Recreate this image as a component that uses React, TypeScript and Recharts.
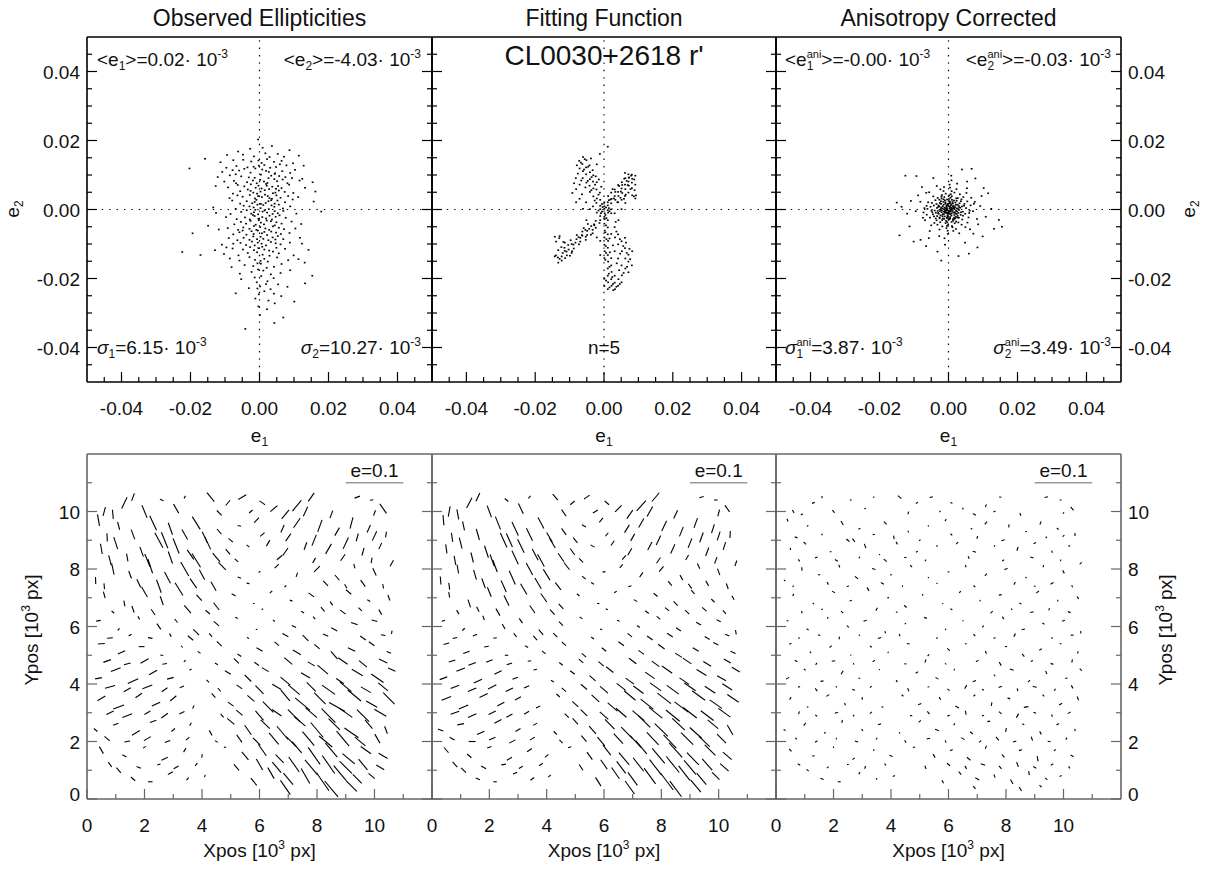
import React from "react"
import { ScatterChart, Scatter, XAxis, YAxis, ReferenceLine } from "recharts"

const FONT = '"Liberation Sans", Arial, Helvetica, sans-serif'
const PAGE_W = 1222
const PAGE_H = 869

// ellipticity axes, in units of 1e-3
const eTicks = [-45, -40, -35, -30, -25, -20, -15, -10, -5, 0, 5, 10, 15, 20, 25, 30, 35, 40, 45]
const eMajor = [-40, -20, 0, 20, 40]
// position axes, in units of 1e3 px
const posTicks = [0, 1, 2, 3, 4, 5, 6, 7, 8, 9, 10, 11]
const posMajor = [0, 2, 4, 6, 8, 10]

// [e1, e2] x 1e-3, observed stars
const observedE: [number, number][] = [
  [-0.4, 20.3], [3.6, 18.4], [-2.7, 17.6], [8.7, 17.2], [0.9, 17.9], [-6.2, 16.8],
  [-4.8, 15.9], [1.7, 16.3], [11.4, 15.6], [-15.8, 14.7], [2.9, 15.2], [-1.6, 15.4], [5.3, 16.1], [-9.4, 15.8], [7.1, 15.3],
  [-7.6, 14.3], [-2.4, 13.9], [2.2, 14.6], [6.4, 14.1], [9.7, 13.4], [-11.3, 13.7], [-4.7, 14.4], [0.6, 13.5], [4.2, 13.8], [-0.3, 14.2],
  [-6.7, 12.6], [-3.5, 12.2], [1.4, 12.9], [4.8, 12.3], [7.8, 12.8], [-9.6, 12.1], [-1.7, 12.4], [3.1, 12.1], [12.8, 12.7], [-20.3, 11.9], [5.9, 13.1], [-0.2, 12.7],
  [-5.9, 11.3], [-2.6, 10.7], [0.8, 11.6], [2.7, 10.9], [6.6, 11.1], [8.9, 10.6], [-10.8, 10.9], [-4.4, 11.8], [1.9, 11.2], [4.5, 10.5], [-7.8, 11.4], [-1.2, 11.9], [10.3, 11.5],
  [-5.3, 9.6], [-1.4, 9.2], [3.4, 9.8], [7.5, 9.4], [-8.6, 9.9], [-3.1, 9.3], [0.4, 10.1], [2.6, 9.1], [5.7, 9.7], [9.4, 9.1], [12.4, 8.9], [-12.1, 9.4], [-6.9, 10.2], [4.4, 10.3],
  [-7.4, 8.3], [-3.6, 7.9], [0.2, 8.6], [2.3, 7.7], [5.1, 8.2], [8.1, 7.6], [15.4, 7.9], [-6.8, 7.6], [1.3, 8.1], [4.3, 8.8], [-1.9, 8.4], [-10.2, 8.1], [6.7, 8.7], [-0.8, 7.6], [11.6, 8.4],
  [-4.4, 6.7], [-1.1, 6.3], [2.1, 6.9], [6.4, 6.2], [-6.3, 7.1], [0.6, 6.1], [3.7, 6.6], [8.6, 7.2], [-2.5, 7.3], [1.9, 7.4], [5.4, 6.8], [-9.1, 6.4], [-0.3, 6.9], [4.8, 6.0], [13.2, 6.3], [-12.7, 6.8],
  [-5.6, 5.3], [-1.8, 4.9], [1.5, 5.6], [3.9, 4.7], [7.3, 5.1], [-3.4, 5.8], [0.3, 5.2], [5.6, 5.5], [9.8, 4.8], [-7.7, 4.6], [2.8, 5.9], [-0.7, 4.6], [-2.6, 5.4], [4.6, 4.9], [16.2, 5.2],
  [-4.9, 3.7], [-1.3, 3.2], [2.4, 3.9], [6.1, 3.4], [-2.8, 4.2], [0.7, 3.6], [3.6, 3.1], [8.3, 3.9], [-8.7, 3.3], [1.6, 4.3], [4.9, 4.1], [-0.4, 3.9], [-6.4, 4.1], [11.2, 3.6], [2.9, 3.3],
  [-3.7, 2.4], [-0.9, 2.8], [1.8, 1.9], [5.2, 2.6], [-5.6, 1.7], [0.4, 1.6], [3.4, 2.7], [7.4, 2.1], [-2.1, 1.8], [2.6, 2.4], [-1.4, 2.2], [4.4, 1.7], [-7.9, 2.6], [9.6, 2.9], [15.7, 2.3],
  [-4.6, 1.1], [-1.7, 0.6], [1.1, 1.3], [4.3, 0.8], [6.8, 0.3], [-6.9, 0.2], [-2.9, 0.9], [0.3, 0.4], [2.7, 0.1], [-0.6, 1.4], [3.5, 1.2], [8.9, 0.9], [-1.2, -0.1], [5.6, 1.4], [-13.4, 0.6],
  [-5.3, -0.7], [-2.4, -1.2], [0.9, -0.6], [3.8, -1.3], [6.9, -0.4], [-3.7, -0.2], [-0.4, -1.4], [2.2, -0.9], [5.3, -1.1], [-8.4, -1.3], [1.5, -0.3], [-1.6, -0.8], [4.4, -0.5], [17.9, -0.6], [-12.6, -1.0], [10.7, -1.2],
  [-4.2, -2.3], [-1.4, -1.9], [1.9, -2.6], [4.7, -2.1], [-6.6, -2.8], [-0.3, -2.7], [2.9, -1.8], [7.6, -2.4], [-2.8, -2.9], [0.8, -2.2], [3.6, -2.9], [-9.7, -2.2], [5.8, -1.7], [-1.9, -1.6],
  [-5.4, -3.6], [-2.6, -3.3], [0.4, -3.8], [3.3, -3.4], [6.4, -4.1], [-7.3, -4.3], [-1.1, -4.4], [2.1, -3.2], [4.9, -3.7], [-3.9, -4.1], [1.3, -4.3], [9.3, -3.5], [-0.2, -3.1], [-14.9, -4.7], [12.1, -4.2],
  [-4.7, -5.2], [-1.6, -4.8], [1.7, -5.5], [3.9, -4.9], [7.1, -5.7], [-6.2, -5.9], [-2.9, -5.6], [0.2, -5.1], [2.8, -5.9], [5.6, -5.3], [-9.2, -5.4], [-0.9, -5.9], [4.4, -4.6], [-11.8, -5.8], [10.4, -5.5],
  [-5.8, -6.6], [-2.3, -6.3], [0.7, -6.9], [3.4, -6.4], [6.2, -7.1], [-3.8, -7.3], [-0.5, -6.1], [2.2, -7.4], [4.8, -6.7], [-7.6, -7.2], [1.4, -6.5], [8.7, -6.8], [-1.7, -7.1], [-19.4, -6.9], [-4.9, -6.1],
  [-4.6, -8.2], [-1.8, -7.8], [1.1, -8.5], [3.8, -8.1], [6.9, -8.6], [-8.9, -8.3], [-2.9, -8.8], [0.3, -7.9], [2.6, -8.9], [5.3, -7.7], [-6.4, -8.9], [-0.7, -8.6], [4.6, -8.7], [11.7, -8.2],
  [-5.5, -9.7], [-2.2, -9.3], [0.6, -9.9], [3.3, -9.4], [6.1, -10.1], [-10.9, -10.2], [-3.9, -10.3], [-0.5, -9.6], [1.9, -10.4], [4.7, -9.8], [8.8, -9.6], [-7.6, -9.9], [-1.4, -10.4], [12.3, -9.9],
  [-7.8, -11.3], [-2.7, -10.9], [1.4, -11.6], [4.9, -11.1], [-12.9, -11.8], [-4.8, -11.6], [-0.3, -11.2], [2.8, -11.9], [7.4, -11.4], [-1.6, -11.8], [-9.6, -11.0], [14.2, -11.7], [0.8, -10.8],
  [-17.1, -13.2], [-3.4, -12.6], [2.9, -13.4], [-10.3, -12.9], [0.9, -13.1], [5.6, -12.7], [9.9, -13.3], [-22.4, -12.3], [-6.1, -13.3], [-0.7, -12.4], [3.9, -12.2],
  [1.4, -14.3], [5.1, -13.9], [-5.8, -14.8], [-1.3, -14.6], [2.4, -15.1], [8.3, -14.7], [-2.9, -13.8], [-8.6, -14.2], [11.3, -14.4], [0.3, -14.9],
  [-4.3, -16.1], [0.4, -15.7], [4.2, -16.6], [13.1, -15.4], [-8.1, -16.7], [-1.8, -16.4], [2.1, -16.9], [6.4, -15.8], [-0.6, -15.6],
  [-2.3, -18.1], [1.1, -17.7], [6.1, -18.4], [3.3, -18.8], [-0.4, -17.4], [-5.7, -18.6], [8.9, -17.6],
  [-5.3, -20.2], [-1.4, -19.7], [2.3, -20.8], [0.5, -19.3], [4.1, -19.9], [-0.8, -21.1], [15.3, -19.2],
  [5.4, -21.7], [0.2, -22.3], [-3.1, -22.8], [3.2, -23.1], [8.1, -22.4], [1.9, -21.6], [-0.6, -22.9], [13.2, -21.4],
  [-6.9, -24.3], [1.4, -23.7], [6.3, -25.1], [-1.2, -25.8], [4.2, -24.4], [-0.2, -24.6],
  [4.4, -27.2], [10.1, -26.7], [2.2, -28.9], [0.1, -30.6], [6.9, -31.3], [4.3, -32.9], [-4.1, -34.6], [-0.3, -28.1], [2.6, -26.4],
]

// [e1, e2] x 1e-3, PSF model evaluated at the star positions
const fittedE: [number, number][] = [
  [-6.1, 15.2], [-7.2, 14.1], [-5.1, 14.3], [-6.3, 13.2], [-4.2, 12.8], [-7.1, 11.9], [-5.2, 12.2], [-6.1, 11.1], [-4.1, 10.8], [-5.2, 10.2], [-3.1, 9.9], [-6.2, 9.1], [-4.1, 8.8], [-3.2, 8.1], [-5.1, 7.8], [-2.1, 7.9], [-4.2, 6.9], [-3.1, 6.1], [-2.2, 5.8], [-4.1, 5.1], [-1.2, 4.9], [-3.1, 3.8], [-2.1, 3.2], [-1.1, 2.8], [-2.2, 1.9], [0.1, 2.1], [-1.1, 1.1], [-3.2, 0.9], [-8.1, 5.9], [-9.2, 4.8], [-7.1, 3.1], [-5.2, 2.1], [-8.2, 9.1], [-7.1, 7.2], [-1.2, 16.1], [1.1, 18.2], [-2.1, 13.1],
  [-5.6, 14.6], [-6.7, 13.6], [-4.6, 12.4], [-5.8, 11.6], [-3.6, 9.4], [-4.7, 8.3], [-2.6, 7.2], [-3.7, 5.6], [-1.6, 4.3], [-2.7, 2.6], [-0.6, 1.6], [-7.6, 10.4], [-6.6, 8.4], [-8.7, 7.6], [-5.4, 6.4], [-6.4, 4.4], [-3.3, 11.4], [-2.4, 9.6], [-0.8, 6.6], [-1.5, 8.7], [-7.9, 12.8], [-3.8, 14.8],
  [1.1, 1.2], [2.1, 1.8], [2.2, 3.1], [3.1, 3.9], [3.3, 2.8], [4.1, 5.1], [4.2, 3.9], [5.1, 6.1], [5.3, 4.8], [6.1, 7.2], [6.2, 5.9], [7.1, 8.1], [6.2, 9.1], [7.2, 9.2], [8.1, 10.1], [8.2, 8.9], [7.1, 10.2], [5.2, 7.9], [4.1, 7.1], [3.1, 5.8], [8.1, 6.2], [8.2, 4.1], [7.1, 4.9], [9.1, 3.2], [6.1, 3.9], [5.1, 2.8], [2.1, 4.9], [1.2, 3.9], [4.1, 2.1], [6.2, 1.9], [8.1, 7.8], [9.1, 9.8], [7.2, 6.9],
  [1.4, 2.7], [2.9, 3.2], [3.3, 5.1], [4.9, 5.2], [5.3, 7.1], [6.9, 7.1], [7.3, 9.3], [8.8, 8.7], [7.7, 5.9], [8.9, 5.6], [6.3, 4.3], [5.8, 3.1], [3.9, 2.1], [4.4, 6.8], [5.9, 8.9], [6.1, 10.6], [8.7, 3.8], [9.3, 4.1], [2.5, 5.9], [1.9, 2.9], [7.9, 9.8], [6.6, 8.3], [9.1, 7.2], [4.8, 3.4],
  [0.1, 0.2], [1.1, -0.2], [-1.1, 0.1], [0.2, -1.1], [1.2, -0.9], [0.1, -2.1], [-1.1, -1.9], [1.1, -3.1], [0.2, -2.8], [2.1, -1.1], [-2.1, -0.9], [2.2, 0.1], [0.1, 0.9], [1.1, 2.1], [-0.9, -1.1],
  [0.6, 0.6], [-0.6, -0.6], [0.4, -1.6], [-0.4, 0.7], [1.6, -0.5], [0.7, -2.5], [-1.6, -0.3], [1.4, 0.4],
  [-1.1, -3.1], [-2.4, -3.3], [-2.8, -4.6], [-3.7, -4.8], [-4.3, -5.6], [-5.4, -5.9], [-4.9, -7.4], [-6.3, -7.6], [-7.4, -8.0], [-6.9, -9.3], [-8.3, -9.6], [-9.4, -10.0], [-8.8, -11.3], [-10.3, -11.6], [-11.4, -12.0], [-10.8, -13.3], [-12.3, -13.6], [-13.4, -13.9], [-12.0, -12.6], [-13.3, -11.8], [-14.3, -13.6], [-13.0, -8.3], [-11.8, -9.4], [-11.4, -9.6], [-6.3, -6.4], [-3.8, -7.3], [-8.0, -8.6], [-9.9, -13.4], [-5.3, -8.8], [-9.4, -12.6], [-14.0, -13.3], [-12.3, -14.8], [-3.3, -6.9], [-14.3, -7.9], [-12.9, -7.7],
  [-1.3, -3.9], [-2.9, -4.3], [-3.3, -5.9], [-4.9, -6.2], [-5.3, -7.9], [-6.9, -8.2], [-7.3, -10.1], [-8.9, -10.2], [-9.3, -12.1], [-10.9, -12.2], [-11.3, -14.1], [-12.9, -14.3], [-13.3, -15.4], [-11.5, -11.1], [-12.4, -10.9], [-13.9, -9.3], [-9.7, -8.9], [-6.4, -7.4], [-4.7, -4.2], [-7.9, -7.4], [-10.4, -10.3], [-2.4, -5.3], [-5.9, -5.4],
  [0.1, -4.1], [1.1, -5.2], [0.2, -6.1], [1.1, -7.2], [0.1, -8.1], [1.2, -9.1], [0.1, -10.2], [1.1, -11.1], [0.2, -12.1], [1.1, -13.2], [0.1, -14.1], [1.2, -15.1], [2.1, -16.2], [1.1, -17.1], [2.2, -18.1], [1.1, -19.2], [0.1, -20.1], [2.1, -20.2], [1.2, -21.1], [0.1, -22.2], [1.1, -23.1], [2.2, -22.1], [3.1, -21.2], [3.2, -23.1], [4.1, -22.1], [4.2, -20.2], [5.1, -21.1], [3.1, -19.2], [2.1, -14.1], [-1.1, -9.1], [-1.1, -13.2],
  [0.6, -4.6], [0.4, -6.6], [0.7, -8.6], [0.5, -10.6], [0.6, -12.6], [0.4, -14.6], [1.6, -16.6], [1.4, -18.6], [0.6, -20.6], [1.6, -22.6], [2.6, -21.6], [3.6, -22.4], [2.7, -23.4], [4.6, -21.6], [2.4, -19.6], [1.7, -12.4], [1.6, -8.4],
  [3.1, -5.1], [4.1, -7.2], [3.2, -8.1], [5.1, -9.2], [4.1, -10.1], [6.1, -11.2], [5.2, -12.1], [7.1, -13.1], [6.2, -14.2], [7.1, -15.1], [5.1, -16.2], [6.2, -17.1], [7.1, -18.2], [5.2, -19.1], [4.1, -14.2], [3.1, -12.1], [8.1, -16.2], [8.2, -12.1], [2.1, -7.1], [6.1, -8.2], [4.2, -3.1],
  [3.6, -6.4], [4.6, -8.6], [5.6, -10.6], [6.6, -12.6], [7.6, -14.4], [6.7, -16.6], [5.7, -18.4], [4.4, -17.6], [3.7, -15.6], [6.4, -9.6], [7.4, -11.4], [4.7, -12.8], [2.6, -10.4], [3.4, -3.6],
  [-4.1, 0.1], [-6.1, 0.2], [-2.1, -8.1], [-5.1, -3.1], [3.1, -1.1], [5.1, 0.1], [-8.1, 2.1],
]

// [e1, e2] x 1e-3, after anisotropy correction
const correctedE: [number, number][] = [
  [0.3, 0.2], [-0.6, 0.8], [1.2, -0.4], [-1.1, -0.9], [0.8, 1.5], [-0.2, -1.6], [1.9, 0.7], [-1.8, 0.3], [0.5, -2.2], [-0.9, 2.1], [2.4, -1.3], [-2.3, -1.7], [1.6, 2.6], [-1.4, 1.4], [0.1, -0.5], [2.8, 0.1], [-2.7, 0.9], [0.9, -1.1], [-0.4, 2.9], [1.3, -2.8], [-1.6, -2.6], [3.2, 1.8], [-3.1, -0.4], [0.6, 3.4], [-0.7, -3.3], [2.1, -2.1], [-2.2, 2.4], [3.6, -0.8], [-3.5, 1.6], [1.1, 0.3], [-0.3, -0.2], [0.0, 1.0], [0.7, -0.1], [-1.3, 0.1], [0.2, -1.2], [1.5, 1.1], [-0.8, -0.4], [2.2, -0.3], [-2.0, -0.8], [0.4, 2.3], [-0.5, -2.4], [1.7, -1.6], [-1.5, 2.2], [2.6, 1.4], [-2.6, -2.3], [0.9, -3.6], [-1.2, 3.6], [3.0, -2.4], [-3.3, -1.9], [3.9, 0.9], [-4.0, -0.3], [0.2, 4.1], [-0.1, -4.3], [4.2, -1.8], [-3.8, 2.7], [2.7, 3.3], [-2.4, -3.7], [1.8, -4.0], [-1.9, 4.2], [4.6, 1.6], [-4.5, -1.4], [0.5, 0.6], [-0.9, 1.7], [1.4, -0.9], [-1.7, -1.4], [0.3, -2.8], [2.0, 2.0], [-2.9, 1.2], [1.0, 2.8], [-0.4, 0.4], [0.6, -0.6], [-1.0, -0.2], [1.2, 0.9], [-0.2, 1.3], [0.1, -0.9], [2.5, -0.6], [-2.1, 0.6], [0.8, 0.0], [-0.6, -1.1], [1.6, 0.4], [-1.4, -0.6], [0.4, 1.8], [-0.3, -1.9], [3.4, 0.5], [-3.0, -1.0], [0.0, -3.0], [1.9, -2.6], [-1.1, -2.0], [2.9, -1.0], [-2.5, 1.9],
  [0.35, -0.45], [-0.75, 0.35], [1.45, 0.65], [-1.35, -1.35], [0.65, 1.15], [-0.45, -0.85], [2.15, 1.35], [-1.65, 0.95], [0.85, -1.75], [-0.25, 1.65], [1.85, -0.75], [-2.45, -0.45], [1.15, 2.15], [-1.05, 2.65], [0.45, -2.55], [2.65, -1.85], [-2.85, -1.25], [3.15, 0.65], [-3.35, 0.45], [0.15, 3.05], [-0.35, -3.65], [1.35, -3.25], [-1.85, -3.05], [2.35, 2.55], [-2.15, 1.65], [3.55, -1.55], [-3.65, -0.95], [0.95, 3.85], [-0.85, -3.95], [1.65, -2.35], [-1.45, 2.95], [2.95, 1.05], [-2.65, 2.85], [0.25, 0.85], [-0.65, -0.15], [0.55, -1.35], [-1.15, 0.55], [1.05, -0.25], [-0.15, -1.05], [0.75, 0.45], [-0.95, -0.65], [1.25, 1.75], [-1.75, -1.95], [1.95, -1.15], [-2.25, 0.15], [0.05, 2.45], [-0.55, 1.25], [1.55, -2.85], [-1.25, -2.75], [2.45, 0.35], [-2.95, 0.75],
  [4.15, -0.65], [-4.25, 1.15], [0.65, 4.45], [-0.45, -4.75], [3.75, 2.95], [-3.45, -3.15], [2.85, -3.75], [-3.15, 3.35], [4.85, -1.25], [-4.95, -0.35], [1.15, -5.15], [-1.45, 5.35], [5.45, 2.35], [-5.35, -2.35], [2.15, -5.65], [-2.35, 5.85], [6.15, -0.35], [-6.35, 1.05], [0.45, 6.35], [-0.25, -6.15], [7.35, 1.65], [-7.25, -0.85], [8.25, -2.75], [-8.15, 2.25], [0.85, 8.45], [-1.15, -8.35], [6.25, -5.75], [-6.45, 4.85], [5.35, 6.15], [-5.45, -6.25], [3.05, -0.15], [-0.05, -2.05], [1.75, 0.15], [-1.95, -0.25], [0.35, 1.95], [-0.35, -2.45], [2.55, -2.35], [-2.55, -2.55], [2.25, 3.25], [-2.05, 3.75],
  [5.1, 0.4], [-5.2, 0.8], [0.9, 5.3], [-0.6, -5.4], [4.3, 3.6], [-4.1, -3.9], [3.8, -4.4], [-4.4, 3.8], [5.8, -2.3], [-5.9, 2.1], [2.3, 5.9], [-2.6, -5.8], [6.4, 1.2], [-6.3, -1.5], [1.4, -6.2], [-1.3, 6.5], [5.2, 4.8], [-5.0, -4.6], [4.9, -5.1], [-5.6, 5.0], [7.1, -0.5], [-7.0, 0.4], [0.3, 7.2], [-0.2, -7.1], [6.6, 3.4], [-6.8, -3.1], [3.1, -6.9], [-3.4, 6.8], [7.6, 2.2], [-7.4, -2.4], [2.5, 7.5], [-2.7, -7.7], [4.5, 1.1], [-4.7, -0.8], [1.0, -4.8], [-0.8, 4.6], [3.6, 2.4], [-3.7, -2.6], [2.2, -3.5], [-2.0, 3.2], [5.5, -3.8], [-4.8, 1.9], [6.0, -1.0], [-6.1, 0.2], [1.7, 4.9], [-1.8, -4.9], [3.3, 4.4], [-3.2, -4.4], [4.0, -2.9], [-4.2, -2.0],
  [9.2, 1.0], [-9.5, -0.5], [0.8, 9.8], [-1.0, -10.2], [8.6, -4.3], [-8.8, 4.1], [5.4, 8.1], [-5.7, -8.3], [10.8, -2.1], [-10.9, 2.5], [11.5, 4.7], [-12.0, -1.2], [3.9, 11.6], [-3.2, -12.2], [13.2, -5.6], [-13.6, 0.8], [7.8, 9.0], [-8.1, -8.8], [9.9, -7.8], [-12.5, 9.8], [-9.3, 9.7], [12.4, 0.2], [14.6, -3.0], [-14.2, -7.5], [6.7, 11.8], [2.9, -13.5], [-2.1, -14.8], [8.4, -11.0], [-6.5, -10.6], [10.2, 6.2], [-11.3, -4.9], [4.8, -9.6], [-4.4, 9.1], [9.6, 3.9], [-15.0, 2.0], [15.5, -5.0], [5.9, -12.8], [-7.7, 6.5], [7.2, -7.0], [-10.1, -9.3],
]

// star positions [x, y] in 1e3 px, one line per row of the field
const starPos: [number, number][] = [
  [0.6, 10.0], [1.3, 10.3], [1.6, 10.5], [2.6, 10.4], [3.4, 10.5], [4.3, 10.5], [4.9, 10.3], [5.4, 10.5], [6.1, 10.3], [6.5, 10.1], [7.3, 10.2], [7.8, 10.5], [9.4, 10.5], [9.9, 10.4], [10.3, 10.1],
  [0.4, 9.7], [1.1, 9.5], [2.3, 9.6], [2.9, 9.4], [3.8, 9.6], [4.6, 9.3], [5.3, 9.5], [5.9, 9.7], [6.8, 9.4], [7.3, 9.6], [8.1, 9.5], [8.7, 9.3], [9.2, 9.6], [9.8, 9.4], [10.4, 9.2],
  [0.5, 8.7], [1.0, 8.9], [1.9, 8.6], [2.5, 9.0], [3.1, 8.8], [3.6, 8.5], [4.2, 8.9], [4.9, 8.6], [5.6, 8.8], [6.3, 8.9], [6.9, 8.6], [7.6, 8.8], [8.4, 8.7], [9.0, 8.9], [9.6, 8.6], [10.2, 8.8],
  [0.3, 7.6], [0.9, 8.0], [1.5, 7.8], [2.2, 8.1], [2.8, 7.7], [3.4, 8.0], [4.0, 7.8], [4.7, 8.1], [5.3, 7.7], [6.0, 7.9], [6.6, 8.1], [7.3, 7.8], [8.0, 8.0], [8.7, 7.7], [9.3, 8.1], [10.0, 7.9], [10.6, 8.2],
  [0.6, 7.1], [1.3, 6.8], [2.0, 7.2], [2.6, 6.9], [3.2, 7.3], [3.9, 7.0], [4.5, 6.7], [5.1, 7.1], [5.8, 6.8], [6.4, 7.2], [7.1, 6.9], [7.8, 7.1], [8.5, 6.8], [9.1, 7.2], [9.8, 6.9], [10.5, 7.0],
  [0.4, 6.2], [1.1, 5.9], [1.8, 6.3], [2.5, 6.0], [3.1, 6.2], [3.8, 5.8], [4.5, 6.1], [5.2, 6.3], [5.9, 5.9], [6.5, 6.2], [7.2, 6.0], [7.9, 6.3], [8.6, 5.9], [9.3, 6.1], [10.0, 6.2], [10.6, 5.8],
  [0.5, 5.4], [1.2, 5.1], [1.9, 5.3], [2.6, 5.0], [3.3, 5.3], [3.9, 5.1], [4.6, 5.4], [5.3, 5.0], [6.0, 5.2], [6.6, 5.4], [7.3, 5.1], [8.0, 5.3], [8.6, 5.0], [9.2, 5.2], [9.9, 5.4], [10.5, 5.1],
  [0.4, 4.2], [1.0, 4.5], [1.6, 4.1], [2.3, 4.4], [2.9, 4.2], [3.6, 4.5], [4.2, 4.1], [4.9, 4.4], [5.6, 4.2], [6.2, 4.5], [6.9, 4.1], [7.6, 4.3], [8.2, 4.5], [8.8, 4.1], [9.4, 4.4], [10.1, 4.2], [10.6, 4.5],
  [0.5, 3.5], [1.1, 3.2], [1.8, 3.6], [2.4, 3.3], [3.0, 3.5], [3.7, 3.2], [4.4, 3.6], [5.0, 3.3], [5.7, 3.5], [6.3, 3.2], [6.9, 3.6], [7.5, 3.3], [8.1, 3.5], [8.7, 3.2], [9.3, 3.6], [9.9, 3.3], [10.5, 3.5],
  [0.3, 2.4], [1.0, 2.6], [1.7, 2.3], [2.3, 2.7], [3.0, 2.4], [3.6, 2.6], [4.3, 2.3], [5.0, 2.7], [5.6, 2.4], [6.2, 2.6], [6.8, 2.3], [7.4, 2.7], [8.0, 2.4], [8.6, 2.6], [9.2, 2.3], [9.8, 2.6], [10.4, 2.4],
  [0.5, 1.7], [1.3, 1.5], [2.0, 1.8], [2.7, 1.4], [3.4, 1.7], [4.0, 1.5], [4.8, 1.8], [5.5, 1.5], [6.1, 1.7], [6.7, 1.4], [7.3, 1.8], [7.9, 1.5], [8.5, 1.7], [9.1, 1.4], [9.7, 1.7], [10.3, 1.5],
  [1.1, 1.0], [1.6, 0.7], [2.2, 0.6], [2.9, 0.9], [3.5, 0.7], [4.1, 0.8], [5.8, 0.6], [6.4, 0.9], [7.0, 0.7], [7.6, 0.8], [8.2, 0.6], [8.8, 0.9], [9.4, 0.7], [9.9, 0.8],
  [0.9, 9.9], [2.0, 10.0], [3.1, 10.1], [4.6, 9.95], [5.7, 10.0], [6.9, 9.9], [7.6, 10.0], [8.5, 9.9], [10.0, 9.95],
  [0.7, 9.1], [1.6, 9.2], [2.7, 9.0], [3.4, 9.2], [4.1, 9.1], [5.0, 9.0], [6.1, 9.2], [7.0, 9.1], [7.9, 9.0], [9.4, 9.1], [10.0, 9.15],
  [0.8, 8.3], [1.4, 8.4], [2.1, 8.3], [2.9, 8.4], [3.8, 8.3], [4.5, 8.4], [5.2, 8.3], [6.7, 8.4], [7.9, 8.3], [8.9, 8.4], [9.9, 8.3],
  [0.6, 7.4], [1.8, 7.5], [2.5, 7.4], [3.7, 7.5], [4.4, 7.4], [5.6, 7.5], [6.9, 7.4], [8.3, 7.5], [9.0, 7.4], [9.6, 7.5], [10.3, 7.4],
  [0.9, 6.5], [1.6, 6.6], [2.3, 6.5], [3.5, 6.6], [4.2, 6.5], [6.1, 6.6], [7.5, 6.5], [8.2, 6.6], [8.9, 6.5], [9.5, 6.6], [10.2, 6.5],
  [0.8, 5.6], [1.5, 5.7], [2.2, 5.6], [2.9, 5.7], [3.6, 5.6], [4.3, 5.7], [5.6, 5.6], [6.9, 5.7], [7.6, 5.6], [8.3, 5.7], [9.6, 5.6], [10.3, 5.7],
  [0.7, 4.8], [1.4, 4.7], [2.0, 4.8], [2.7, 4.7], [3.4, 4.8], [4.5, 4.7], [5.2, 4.8], [5.9, 4.7], [7.0, 4.8], [7.8, 4.7], [8.9, 4.8], [9.6, 4.7], [10.3, 4.8],
  [0.8, 3.9], [1.4, 3.8], [2.1, 3.9], [2.7, 3.8], [3.3, 3.9], [4.6, 3.8], [5.3, 3.9], [6.0, 3.8], [6.6, 3.9], [7.2, 3.8], [7.8, 3.9], [8.4, 3.8], [9.0, 3.9], [9.7, 3.8], [10.3, 3.9],
  [0.8, 3.0], [1.4, 2.9], [2.1, 3.0], [2.7, 2.9], [3.3, 3.0], [4.7, 2.9], [5.3, 3.0], [6.0, 2.9], [6.6, 3.0], [7.2, 2.9], [7.8, 3.0], [8.4, 2.9], [9.0, 3.0], [9.6, 2.9], [10.2, 3.0],
  [0.7, 2.1], [1.4, 2.0], [2.1, 2.1], [2.8, 2.0], [3.5, 2.1], [4.5, 2.0], [5.3, 2.1], [5.9, 2.0], [6.5, 2.1], [7.1, 2.0], [7.7, 2.1], [8.3, 2.0], [8.9, 2.1], [9.5, 2.0], [10.1, 2.1],
  [0.8, 1.2], [1.8, 1.1], [2.5, 1.2], [3.1, 1.1], [3.8, 1.2], [5.2, 1.1], [6.0, 1.2], [6.6, 1.1], [7.2, 1.2], [7.8, 1.1], [8.4, 1.2], [9.0, 1.1], [9.6, 1.2], [10.2, 1.1], [6.9, 0.4], [8.5, 0.35], [9.2, 0.45],
]

// whiskers [|e| x 1e-3, angle in degrees], same order as starPos
const observedW: [number, number][] = [
  [16, 75], [22, 65], [14, 70], [7, -25], [5, 60], [20, -50], [12, 50], [16, 30], [12, -35], [16, 40], [24, 50], [18, 55], [10, 20], [6, 10], [20, -55],
  [20, -80], [14, -75], [28, -65], [22, -70], [26, -58], [12, -50], [6, -10], [12, 45], [14, 65], [20, 55], [22, 70], [16, 60], [20, 75], [14, 65], [10, 80],
  [18, -80], [22, -72], [18, -70], [30, -62], [28, -68], [20, -55], [24, -65], [12, -50], [6, -40], [12, 60], [16, 55], [14, 70], [20, 60], [22, 65], [14, 75], [12, 65],
  [12, -88], [20, -78], [14, -70], [26, -72], [22, -62], [28, -60], [20, -62], [18, -45], [6, -20], [4, 40], [10, 45], [8, 70], [14, 45], [12, -50], [8, -75], [14, -65], [12, 60],
  [12, -75], [10, -80], [20, -60], [16, -70], [26, -58], [14, -48], [16, -52], [8, -30], [3, 20], [6, 45], [5, -20], [12, -35], [8, -55], [12, -40], [6, -30], [10, -70],
  [8, 10], [5, 50], [6, -60], [12, -55], [8, -50], [14, -45], [12, -40], [5, -30], [3, 10], [4, -40], [8, -25], [6, -50], [12, -30], [12, -20], [10, -15], [6, 80],
  [12, 5], [14, 25], [10, 0], [5, -10], [4, -50], [6, -35], [12, -45], [8, -35], [12, -30], [10, -40], [16, -30], [12, -40], [18, -50], [14, -25], [12, -35], [8, -20],
  [12, 10], [18, 20], [20, 25], [16, 30], [12, 15], [4, 30], [6, -45], [12, -30], [16, -45], [14, -30], [22, -40], [18, -30], [24, -40], [16, -35], [22, -30], [26, -35], [14, -25],
  [16, 30], [20, 20], [14, 35], [16, 25], [14, 40], [6, 60], [10, -50], [12, -35], [16, -40], [26, -45], [24, -50], [34, -40], [28, -45], [32, -30], [30, -40], [22, -30], [28, -45],
  [8, -40], [10, 20], [16, 30], [12, 20], [8, 40], [6, 60], [10, -60], [16, -40], [20, -55], [22, -45], [30, -50], [26, -40], [34, -50], [28, -45], [30, -35], [20, -50], [14, -70],
  [14, -60], [8, -30], [6, 30], [12, 25], [8, 60], [6, 80], [4, 0], [18, -50], [24, -55], [20, -45], [26, -50], [36, -55], [32, -50], [28, -40], [22, -35], [18, -30],
  [12, -50], [10, -40], [8, 0], [10, 30], [6, 50], [4, 70], [16, -50], [22, -60], [26, -50], [30, -60], [38, -55], [34, -50], [22, -45], [14, -40],
  [16, -85], [24, -68], [18, -60], [12, -45], [8, 40], [20, 50], [18, 65], [14, 70], [10, 70],
  [14, -88], [18, -70], [30, -68], [20, -60], [22, -65], [10, -40], [10, 40], [16, 55], [20, 68], [14, 75], [18, 65],
  [18, -75], [14, -80], [24, -68], [22, -70], [28, -58], [20, -50], [8, -40], [12, 40], [10, 60], [14, 55], [10, 80],
  [10, -85], [16, -65], [24, -70], [20, -55], [18, -60], [5, -10], [4, 40], [12, -45], [8, -60], [14, -55], [8, -80],
  [6, -40], [12, -70], [12, -55], [18, -50], [10, -40], [3, 30], [6, -30], [10, -50], [12, -35], [8, -45], [10, -60],
  [10, 5], [6, 30], [8, -10], [6, -60], [12, -40], [8, -50], [4, -20], [12, -30], [14, -45], [10, -25], [12, -35], [8, -10],
  [14, 20], [12, 15], [16, 30], [8, 10], [4, 40], [6, -30], [12, -45], [10, -35], [18, -40], [14, -30], [20, -35], [18, -40], [16, -25],
  [18, 15], [14, 30], [18, 20], [12, 35], [8, 20], [8, -50], [12, -35], [20, -45], [18, -30], [26, -40], [22, -45], [28, -35], [26, -40], [20, -30], [22, -40],
  [14, 25], [18, 20], [12, 30], [14, 35], [10, 25], [8, -50], [14, -40], [22, -50], [20, -35], [30, -45], [26, -40], [34, -45], [28, -35], [30, -45], [24, -30],
  [12, -40], [10, 10], [14, 30], [10, 20], [8, 40], [6, -30], [16, -55], [18, -45], [26, -50], [24, -45], [32, -50], [30, -40], [34, -50], [24, -40], [18, -60],
  [10, -55], [8, -20], [6, 20], [10, 30], [6, 50], [14, -50], [22, -60], [24, -50], [32, -55], [34, -50], [38, -55], [30, -45], [24, -50], [16, -30], [30, -55], [36, -50], [26, -45],
]

const fittedW: [number, number][] = [
  [18, 80], [20, 62], [16, 65], [8, -40], [6, 50], [14, -50], [10, 40], [12, 35], [10, -40], [16, 45], [24, 48], [20, 50], [8, 15], [6, 0], [14, -55],
  [18, -85], [16, -78], [24, -68], [26, -65], [22, -62], [14, -55], [8, -30], [10, 50], [16, 58], [18, 60], [20, 65], [18, 68], [18, 70], [16, 72], [12, 88],
  [16, -82], [20, -76], [22, -72], [28, -66], [26, -64], [22, -62], [20, -60], [14, -55], [8, -30], [10, 55], [14, 60], [16, 62], [18, 66], [18, 68], [16, 70], [14, 72],
  [14, -85], [16, -80], [18, -74], [22, -70], [26, -66], [24, -62], [22, -58], [16, -52], [8, -40], [5, 10], [8, 50], [10, 55], [12, 50], [10, -60], [10, -65], [12, -70], [10, 70],
  [10, -80], [14, -72], [18, -68], [20, -64], [22, -60], [18, -55], [12, -48], [6, -40], [4, 0], [5, 30], [7, -30], [9, -40], [10, -45], [9, -50], [8, -45], [8, -60],
  [6, 20], [6, 40], [8, -70], [10, -60], [10, -55], [12, -50], [10, -45], [6, -35], [4, -20], [5, -20], [6, -35], [8, -40], [10, -35], [10, -30], [8, -25], [8, -80],
  [10, 15], [12, 20], [8, 10], [6, 0], [6, -30], [8, -40], [10, -42], [10, -40], [10, -38], [12, -36], [12, -35], [14, -35], [14, -32], [12, -30], [10, -28], [10, -25],
  [14, 20], [16, 22], [16, 25], [14, 25], [10, 20], [6, 10], [6, -30], [10, -38], [14, -40], [16, -38], [18, -36], [20, -35], [22, -35], [20, -34], [20, -32], [18, -30], [16, -30],
  [18, 22], [18, 24], [16, 26], [14, 28], [12, 30], [8, 25], [8, -40], [14, -42], [18, -42], [22, -40], [26, -40], [28, -38], [30, -38], [30, -37], [28, -36], [26, -35], [24, -34],
  [10, -20], [12, 10], [14, 25], [14, 28], [10, 30], [8, 30], [8, -45], [14, -48], [18, -48], [24, -46], [28, -45], [30, -45], [32, -44], [30, -43], [28, -42], [24, -40], [20, -60],
  [12, -50], [10, -40], [8, 20], [10, 30], [10, 35], [8, 40], [6, 20], [16, -55], [22, -52], [28, -50], [30, -50], [34, -50], [34, -48], [30, -46], [26, -44], [20, -40],
  [12, -45], [8, -20], [6, 0], [8, 25], [8, 35], [6, 40], [18, -58], [24, -55], [28, -54], [34, -54], [36, -53], [32, -52], [26, -50], [18, -45],
  [18, -80], [22, -70], [20, -65], [14, -55], [10, 30], [18, 55], [20, 60], [16, 65], [12, 75],
  [16, -82], [20, -74], [26, -66], [24, -64], [20, -60], [12, -50], [8, 50], [14, 60], [18, 64], [18, 70], [16, 72],
  [16, -80], [18, -76], [22, -70], [26, -65], [24, -61], [18, -56], [10, -45], [10, 50], [12, 55], [10, 60], [12, 70],
  [12, -82], [18, -70], [22, -66], [22, -60], [16, -52], [6, -30], [6, 20], [10, -50], [10, -55], [10, -60], [10, -70],
  [8, -60], [10, -65], [14, -60], [16, -55], [12, -48], [4, -20], [8, -38], [9, -40], [10, -42], [10, -40], [8, -50],
  [8, 15], [8, 20], [6, 10], [8, -50], [10, -48], [10, -45], [6, -35], [10, -38], [12, -36], [12, -34], [10, -30], [8, -25],
  [12, 18], [14, 20], [12, 22], [10, 20], [6, 10], [8, -38], [10, -40], [12, -40], [16, -37], [16, -36], [18, -34], [16, -32], [14, -30],
  [16, 22], [16, 24], [16, 26], [14, 26], [10, 25], [10, -40], [14, -40], [18, -40], [20, -38], [22, -37], [24, -36], [26, -36], [24, -35], [22, -34], [20, -32],
  [16, 20], [16, 24], [14, 26], [12, 28], [10, 30], [10, -44], [16, -44], [20, -42], [24, -41], [27, -40], [30, -39], [31, -39], [30, -38], [28, -37], [26, -36],
  [10, -30], [12, 0], [12, 22], [12, 28], [10, 32], [8, -45], [14, -50], [20, -50], [24, -48], [28, -47], [30, -47], [32, -46], [30, -45], [26, -44], [22, -45],
  [12, -48], [10, -30], [8, 10], [8, 28], [8, 35], [12, -56], [20, -55], [26, -53], [30, -52], [34, -52], [36, -51], [32, -50], [26, -48], [20, -42], [28, -54], [34, -53], [28, -50],
]

const correctedW: [number, number][] = [
  [6, -60], [5, 20], [4, 90], [3, 0], [3, 45], [8, -40], [4, 30], [6, 10], [4, -20], [3, 60], [5, 70], [4, -10], [6, 15], [3, 0], [8, -50],
  [5, -70], [3, 30], [8, -60], [4, 20], [7, -45], [3, -80], [2, 0], [4, 60], [3, -30], [6, 50], [5, 80], [3, 10], [6, 70], [4, -40], [5, 90],
  [4, -80], [6, -50], [3, 20], [7, -40], [8, -70], [2, 0], [5, -60], [4, 30], [3, 80], [5, 40], [6, -20], [3, 60], [7, 70], [5, 30], [4, -70], [3, 10],
  [3, -30], [6, -85], [4, 10], [5, -70], [7, -40], [6, -20], [3, 70], [5, -50], [2, 30], [3, 0], [4, -70], [5, 50], [6, 20], [3, -40], [4, 80], [6, -60], [5, 40],
  [4, 60], [3, -50], [6, -30], [4, 20], [7, -60], [3, 10], [6, -40], [3, 80], [2, 0], [4, 50], [3, -70], [5, 10], [4, -20], [6, 40], [3, -80], [5, -50],
  [3, 0], [4, -30], [3, 60], [5, -40], [6, 20], [4, -80], [3, 40], [5, -20], [3, 70], [2, -30], [4, 50], [5, -60], [6, 10], [4, -30], [5, 20], [4, 90],
  [4, 20], [3, -60], [5, 40], [2, 0], [4, -30], [3, 70], [5, -10], [4, 50], [6, -40], [3, 20], [5, -70], [4, 10], [6, -50], [5, 30], [3, -20], [4, 80],
  [6, 30], [4, -40], [5, 10], [7, 60], [3, -20], [2, 0], [4, -60], [5, 30], [6, -30], [3, 80], [6, 20], [4, -50], [7, -20], [5, 40], [6, -70], [4, 10], [5, -40],
  [5, 60], [3, -20], [6, 30], [4, -70], [5, 90], [3, 10], [4, -40], [6, 20], [5, -60], [7, -30], [4, 40], [6, 80], [5, -20], [8, 10], [4, -50], [6, 30], [7, -70],
  [4, -30], [6, 50], [3, 0], [5, 80], [4, -50], [6, 20], [3, -70], [5, 40], [7, -20], [4, 60], [6, -40], [5, 10], [7, 80], [4, -30], [6, -60], [5, 30], [4, -80],
  [6, -50], [4, 20], [3, -70], [5, 40], [3, 80], [6, -20], [4, 10], [7, -60], [5, 30], [8, -40], [6, 70], [7, -50], [5, 20], [9, -80], [4, 40], [6, -30],
  [5, -40], [6, -20], [5, 0], [4, 60], [3, 90], [4, 20], [6, -60], [7, -50], [8, -30], [6, -70], [9, -60], [7, -80], [5, -40], [4, 20],
  [4, 30], [6, -50], [3, -10], [5, 70], [3, 40], [6, -30], [4, 20], [5, -70], [3, 60],
  [5, -20], [3, 60], [7, -50], [4, 10], [6, -80], [3, 30], [4, -40], [5, 70], [6, 20], [3, -60], [4, 40],
  [4, -60], [5, 20], [6, -30], [3, 70], [7, -40], [4, 0], [3, 50], [5, -70], [4, 30], [6, -20], [3, 80],
  [3, 40], [5, -60], [4, 10], [6, -30], [3, 70], [2, 0], [4, -40], [5, 60], [3, -20], [6, 30], [4, -70],
  [4, -70], [3, 20], [5, -40], [6, 60], [3, 0], [4, -30], [5, 40], [3, -60], [6, 10], [4, 70], [5, -20],
  [3, 50], [4, -20], [5, 80], [3, -40], [6, 20], [4, -70], [3, 30], [5, -50], [4, 10], [6, 60], [3, -30], [5, 0],
  [5, -30], [4, 60], [6, 10], [3, -70], [5, 40], [4, -10], [6, 70], [3, -40], [5, 20], [7, -60], [4, 30], [5, -20], [6, 80],
  [4, 20], [6, -50], [3, 70], [5, -20], [4, 40], [6, -70], [3, 10], [5, -40], [7, 60], [4, -30], [6, 20], [5, -80], [7, -10], [4, 50], [6, -60],
  [5, 70], [4, -30], [6, 20], [3, -60], [5, 40], [4, 0], [6, -50], [5, 30], [7, -80], [4, 20], [6, -40], [8, 60], [5, -20], [4, -70], [6, 30],
  [4, -40], [5, 30], [3, 80], [6, -20], [4, 50], [5, -60], [6, 10], [4, -70], [7, -30], [5, 40], [8, -50], [6, 20], [7, -70], [5, -10], [4, 60],
  [5, -30], [4, 40], [3, 0], [5, 70], [4, -50], [6, -70], [7, -40], [6, -60], [8, -20], [7, -50], [9, -70], [6, -30], [5, 30], [4, -60], [6, -50], [8, -60], [5, -40],
]

const fmtE = (v: number) => (v / 1000).toFixed(2)
const fmtPos = (v: number) => String(v)

type Side = "bottom" | "top" | "left" | "right"

function makeTick(side: Side, majors: number[], color: string, fmt: ((v: number) => string) | null, lowShift: number | null) {
  return (props: any) => {
    const { x, y, payload } = props
    const v = payload.value
    const major = majors.includes(v)
    const len = major ? 10 : 5
    let line: React.ReactNode = null
    let label: React.ReactNode = null
    const ls = { stroke: color, strokeWidth: 1.2 }
    if (side === "bottom") {
      line = <line x1={x} x2={x} y1={y} y2={y - len} {...ls} />
      if (fmt && major) label = <text x={x} y={y + 33} textAnchor="middle" fontSize={19} fontFamily={FONT} fill="#111">{fmt(v)}</text>
    } else if (side === "top") {
      line = <line x1={x} x2={x} y1={y} y2={y + len} {...ls} />
    } else if (side === "left") {
      line = <line x1={x} x2={x + len} y1={y} y2={y} {...ls} />
      if (fmt && major) label = <text x={x - 7} y={y + 7 - (lowShift === v ? 5 : 0)} textAnchor="end" fontSize={19} fontFamily={FONT} fill="#111">{fmt(v)}</text>
    } else {
      line = <line x1={x} x2={x - len} y1={y} y2={y} {...ls} />
      if (fmt && major) label = <text x={x + 7} y={y + 7 - (lowShift === v ? 5 : 0)} textAnchor="start" fontSize={19} fontFamily={FONT} fill="#111">{fmt(v)}</text>
    }
    return <g>{line}{label}</g>
  }
}

interface PanelProps {
  left: number
  top: number
  w: number
  h: number
  domain: [number, number]
  ticks: number[]
  majors: number[]
  fmt: (v: number) => string
  showX: boolean
  showLeft: boolean
  showRight: boolean
  color: string
  lowShift: number | null
  children: React.ReactNode
}

// each axis gets 1px of room (Recharts skips zero-sized axes), taken back from the margin
function Panel({ left, top, w, h, domain, ticks, majors, fmt, showX, showLeft, showRight, color, lowShift, children }: PanelProps) {
  const margin = { top: top - 1, left: left - 1, right: PAGE_W - left - w - 1, bottom: PAGE_H - top - h - 1 }
  const axisLine = { stroke: color, strokeWidth: 1.6 }
  return (
    <div style={{ position: "absolute", left: 0, top: 0 }}>
      <ScatterChart width={PAGE_W} height={PAGE_H} margin={margin}>
        <XAxis type="number" dataKey="x" domain={domain} ticks={ticks} interval={0} allowDataOverflow height={1} tickSize={0} tickMargin={0} tickLine={false} axisLine={axisLine} tick={makeTick("bottom", majors, color, showX ? fmt : null, null)} />
        <XAxis xAxisId="t" orientation="top" type="number" domain={domain} ticks={ticks} interval={0} allowDataOverflow height={1} tickSize={0} tickMargin={0} tickLine={false} axisLine={axisLine} tick={makeTick("top", majors, color, null, null)} />
        <YAxis type="number" dataKey="y" domain={domain} ticks={ticks} interval={0} allowDataOverflow width={1} tickSize={0} tickMargin={0} tickLine={false} axisLine={axisLine} tick={makeTick("left", majors, color, showLeft ? fmt : null, lowShift)} />
        <YAxis yAxisId="r" orientation="right" type="number" domain={domain} ticks={ticks} interval={0} allowDataOverflow width={1} tickSize={0} tickMargin={0} tickLine={false} axisLine={axisLine} tick={makeTick("right", majors, color, showRight ? fmt : null, lowShift)} />
        {children}
      </ScatterChart>
    </div>
  )
}

const dot = (props: any) => <rect x={props.cx - 0.9} y={props.cy - 0.8} width={1.8} height={1.6} fill="#000" />

const whisker = (ppu: number) => (props: any) => {
  const { cx, cy, payload } = props
  const half = ((payload.e / 50) * ppu) / 2
  const r = (payload.a * Math.PI) / 180
  const dx = half * Math.cos(r)
  const dy = half * Math.sin(r)
  return <line x1={cx - dx} y1={cy + dy} x2={cx + dx} y2={cy - dy} stroke="#000" strokeWidth={1.1} />
}

const toXY = (arr: [number, number][]) => arr.map(([x, y]) => ({ x, y }))
const toWhisk = (arr: [number, number][]) => starPos.map(([x, y], i) => ({ x, y, e: arr[i][0], a: arr[i][1] }))

const LEFTS = [87, 432, 776]
const WIDTHS = [345, 344, 345]
const TOP_Y = 37
const BOT_Y = 454
const H = 345

const zeroLines = [
  <ReferenceLine key="zx" x={0} stroke="#000" strokeWidth={1.2} strokeDasharray="1.4 6" />,
  <ReferenceLine key="zy" y={0} stroke="#000" strokeWidth={1.2} strokeDasharray="1.4 6" />,
]

function scaleBar() {
  return (
    <ReferenceLine
      key="bar"
      segment={[{ x: 9, y: 11 }, { x: 11, y: 11 }]}
      stroke="#999"
      strokeWidth={1.6}
      label={{ value: "e=0.1", position: "top", offset: 6, fill: "#111", fontSize: 19, fontFamily: FONT }}
    />
  )
}

const T = { fontFamily: FONT, fill: "#111" }

function Overlay() {
  const centers = LEFTS.map((l, i) => l + WIDTHS[i] / 2)
  return (
    <svg width={PAGE_W} height={PAGE_H} style={{ position: "absolute", left: 0, top: 0, pointerEvents: "none" }}>
      <g {...T} fontSize={23} textAnchor="middle">
        <text x={centers[0]} y={26}>Observed Ellipticities</text>
        <text x={centers[1]} y={26}>Fitting Function</text>
        <text x={centers[2]} y={26}>Anisotropy Corrected</text>
      </g>
      <g {...T} fontSize={19}>
        <text x={97} y={66}>{"<e"}<tspan fontSize={12} dy={4}>1</tspan><tspan dy={-4}>{">=0.02· 10"}</tspan><tspan fontSize={12} dy={-8}>-3</tspan></text>
        <text x={421} y={66} textAnchor="end">{"<e"}<tspan fontSize={12} dy={4}>2</tspan><tspan dy={-4}>{">=-4.03· 10"}</tspan><tspan fontSize={12} dy={-8}>-3</tspan></text>
        <text x={97} y={354}><tspan fontStyle="italic">σ</tspan><tspan fontSize={12} dy={4}>1</tspan><tspan dy={-4}>{"=6.15· 10"}</tspan><tspan fontSize={12} dy={-8}>-3</tspan></text>
        <text x={421} y={354} textAnchor="end"><tspan fontStyle="italic">σ</tspan><tspan fontSize={12} dy={4}>2</tspan><tspan dy={-4}>{"=10.27· 10"}</tspan><tspan fontSize={12} dy={-8}>-3</tspan></text>
        <text x={centers[1]} y={354} textAnchor="middle">n=5</text>
        <text x={785} y={66}>{"<e"}<tspan fontSize={11} dy={-8}>ani</tspan><tspan fontSize={12} dx={-14.7} dy={12}>1</tspan><tspan dx={8} dy={-4}>{">=-0.00· 10"}</tspan><tspan fontSize={12} dy={-8}>-3</tspan></text>
        <text x={1111} y={66} textAnchor="end">{"<e"}<tspan fontSize={11} dy={-8}>ani</tspan><tspan fontSize={12} dx={-14.7} dy={12}>2</tspan><tspan dx={8} dy={-4}>{">=-0.03· 10"}</tspan><tspan fontSize={12} dy={-8}>-3</tspan></text>
        <text x={785} y={354}><tspan fontStyle="italic">σ</tspan><tspan fontSize={11} dy={-8}>ani</tspan><tspan fontSize={12} dx={-14.7} dy={12}>1</tspan><tspan dx={8} dy={-4}>{"=3.87· 10"}</tspan><tspan fontSize={12} dy={-8}>-3</tspan></text>
        <text x={1111} y={354} textAnchor="end"><tspan fontStyle="italic">σ</tspan><tspan fontSize={11} dy={-8}>ani</tspan><tspan fontSize={12} dx={-14.7} dy={12}>2</tspan><tspan dx={8} dy={-4}>{"=3.49· 10"}</tspan><tspan fontSize={12} dy={-8}>-3</tspan></text>
      </g>
      <text {...T} x={centers[1]} y={65} fontSize={28} textAnchor="middle">CL0030+2618 r'</text>
      <g {...T} fontSize={19} textAnchor="middle">
        {centers.map((c) => (
          <text key={"e1" + c} x={c} y={442}>e<tspan fontSize={12} dy={4}>1</tspan></text>
        ))}
        {centers.map((c) => (
          <text key={"xp" + c} x={c} y={857}>Xpos [10<tspan fontSize={12} dy={-8}>3</tspan><tspan dy={8}> px]</tspan></text>
        ))}
        <text transform="translate(19,209) rotate(-90)">e<tspan fontSize={12} dy={4}>2</tspan></text>
        <text transform="translate(1195,209) rotate(-90)">e<tspan fontSize={12} dy={4}>2</tspan></text>
        <text transform="translate(38,630) rotate(-90)">Ypos [10<tspan fontSize={12} dy={-8}>3</tspan><tspan dy={8}> px]</tspan></text>
        <text transform="translate(1172,630) rotate(-90)">Ypos [10<tspan fontSize={12} dy={-8}>3</tspan><tspan dy={8}> px]</tspan></text>
      </g>
    </svg>
  )
}

export default function App() {
  const scatterSets = [observedE, fittedE, correctedE]
  const whiskSets = [observedW, fittedW, correctedW]
  return (
    <div style={{ position: "absolute", left: 0, top: 0, width: PAGE_W, height: PAGE_H, background: "#fff" }}>
      {scatterSets.map((set, i) => (
        <Panel
          key={"top" + i}
          left={LEFTS[i]}
          top={TOP_Y}
          w={WIDTHS[i]}
          h={H}
          domain={[-50, 50]}
          ticks={eTicks}
          majors={eMajor}
          fmt={fmtE}
          showX
          showLeft={i === 0}
          showRight={i === 2}
          color="#000"
          lowShift={null}
        >
          {zeroLines}
          <Scatter data={toXY(set)} shape={dot} isAnimationActive={false} />
        </Panel>
      ))}
      {whiskSets.map((set, i) => (
        <Panel
          key={"bot" + i}
          left={LEFTS[i]}
          top={BOT_Y}
          w={WIDTHS[i]}
          h={H}
          domain={[0, 12]}
          ticks={posTicks}
          majors={posMajor}
          fmt={fmtPos}
          showX
          showLeft={i === 0}
          showRight={i === 2}
          color="#666"
          lowShift={0}
        >
          {scaleBar()}
          <Scatter data={toWhisk(set)} shape={whisker(WIDTHS[i] / 12)} isAnimationActive={false} />
        </Panel>
      ))}
      <Overlay />
    </div>
  )
}
